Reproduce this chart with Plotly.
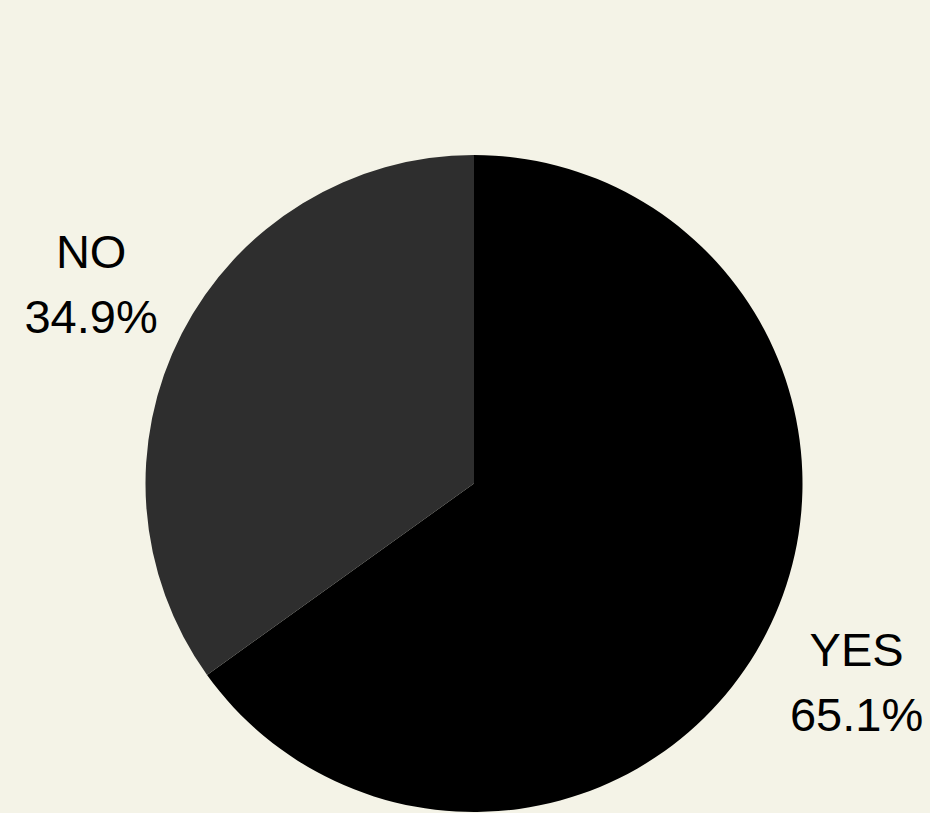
import plotly.graph_objects as go

labels = ["YES", "NO"]
values = [65.1, 34.9]
colors = ["#000000", "#2e2e2e"]

FONT = "Liberation Sans, Arial, sans-serif"
big = "<span style='font-size:47px'>"
label_templates = [
    "<span style='font-size:66px'>\u00a0</span><br>" + big + "%{label}</span><br>" + big + "%{percent:.1%}</span>",
    big + "%{label}</span><br>" + big + "%{percent:.1%}</span><br><span style='font-size:130px'>\u00a0</span>",
]

# main pie (slices)
pie_main = go.Pie(
    labels=labels,
    values=values,
    marker=dict(colors=colors, line=dict(width=0)),
    textinfo="none",
    direction="clockwise",
    sort=False,
    rotation=0,
    automargin=False,
    showlegend=False,
    hoverinfo="label+percent",
)

# transparent companion pie carrying the outside labels
lab_frac = 299 / 328.5
pad = (1 - lab_frac) / 2
pie_labels = go.Pie(
    labels=labels,
    values=values,
    marker=dict(colors=["rgba(0,0,0,0)"] * len(labels), line=dict(width=0)),
    textposition="outside",
    texttemplate=label_templates,
    textfont=dict(family=FONT, size=50, color="#000000"),
    direction="clockwise",
    sort=False,
    rotation=0,
    automargin=False,
    showlegend=False,
    hoverinfo="skip",
    domain=dict(x=[0, 1], y=[pad, 1 - pad]),
)

fig = go.Figure([pie_main, pie_labels])

fig.update_layout(
    width=930,
    height=813,
    autosize=False,
    paper_bgcolor="#f4f3e7",
    plot_bgcolor="#f4f3e7",
    margin=dict(l=18, r=0, t=155, b=1, autoexpand=False),
    font=dict(family=FONT),
)

fig.write_html(
    "out.html",
    config={"displayModeBar": False},
    post_script="document.body.style.margin='0';document.body.style.background='#f4f3e7';",
)
